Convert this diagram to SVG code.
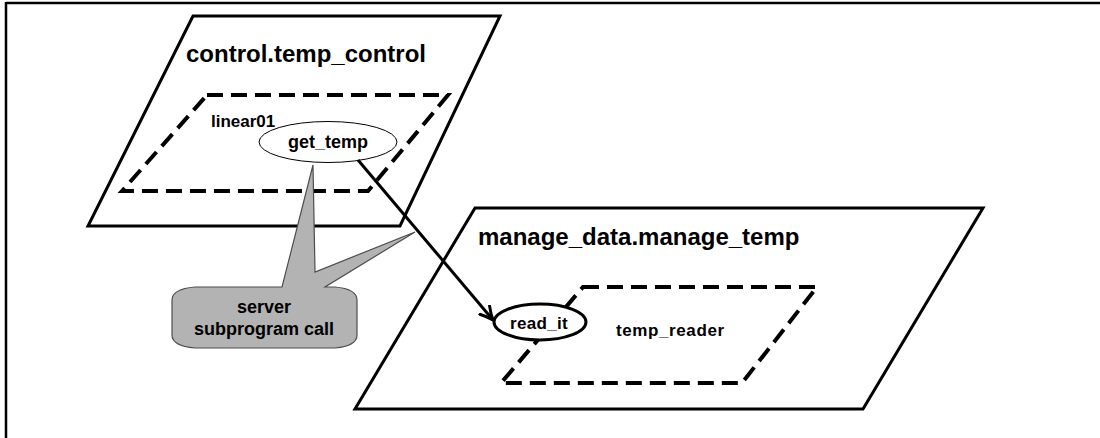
<svg xmlns="http://www.w3.org/2000/svg" width="1100" height="438" viewBox="0 0 1100 438">
<style>
.frame{stroke:#000;stroke-width:2.5;fill:none}
.pkg{fill:#fff;stroke:#000;stroke-width:3;stroke-linejoin:miter}
.task{fill:none;stroke:#000;stroke-width:4;stroke-dasharray:16 8}
.title{font-family:"Liberation Sans",Arial,sans-serif;font-weight:bold;font-size:24px;fill:#000}
.lbl{font-family:"Liberation Sans",Arial,sans-serif;font-weight:bold;font-size:17px;fill:#000}
.lbl18{font-family:"Liberation Sans",Arial,sans-serif;font-weight:bold;font-size:18px;fill:#000}
.conn{stroke:#000;stroke-width:3;fill:none}
.note{fill:#b3b3b3;stroke:#4d4d4d;stroke-width:1.2;stroke-linejoin:miter}
</style>
<defs>
<marker id="arr" viewBox="0 0 16 16" refX="14" refY="8" markerWidth="16" markerHeight="16" markerUnits="userSpaceOnUse" orient="auto">
<path d="M1,1.5 Q8,6 14,8 Q8,10 1,14.5" fill="none" stroke="#000" stroke-width="3" stroke-linecap="round"/>
</marker>
</defs>
<rect width="1100" height="438" fill="#fff"/>
<g id="frame">
<path class="frame" d="M6,3 H1100 M6,2 V438"/>
</g>
<g id="control_temp_control">
<polygon class="pkg" points="193,16 500,16 400,226 88,226"/>
<text class="title" x="186" y="62">control.temp_control</text>
</g>
<g id="manage_data_manage_temp">
<polygon class="pkg" points="475,208 983,208 863,409 355,409"/>
<text class="title" x="478" y="245">manage_data.manage_temp</text>
</g>
<g id="linear01">
<polygon class="task" points="207,95 448,95 368,191 122,191"/>
<text class="lbl" x="211" y="127">linear01</text>
</g>
<g id="temp_reader">
<polygon class="task" points="583,287 817,287 742,383 501,383"/>
<text class="lbl" x="616" y="336" letter-spacing="0.6">temp_reader</text>
</g>
<g id="get_temp">
<ellipse cx="328" cy="142" rx="69" ry="20.5" fill="#fff" stroke="#000" stroke-width="1"/>
<text class="lbl18" x="328" y="148" text-anchor="middle">get_temp</text>
</g>
<g id="read_it">
<ellipse cx="540" cy="322" rx="46" ry="18" fill="#fff" stroke="#000" stroke-width="3"/>
<text class="lbl" x="539" y="329" text-anchor="middle" letter-spacing="0.3">read_it</text>
</g>
<g id="callout">
<path class="note" d="M195,287 L282,287 L313,165 L315,272 L415,232 L325,287 L335,287 Q357,289 357,300 L357,335 Q357,346 335,348 L195,348 Q172,346 172,335 L172,300 Q172,289 195,287 Z"/>
<text class="lbl18" x="264" y="313" text-anchor="middle">server</text>
<text class="lbl18" x="264" y="335" text-anchor="middle">subprogram call</text>
</g>
<g id="connectors">
<line class="conn" x1="358" y1="160" x2="493" y2="320" marker-end="url(#arr)"/>
</g>
</svg>
